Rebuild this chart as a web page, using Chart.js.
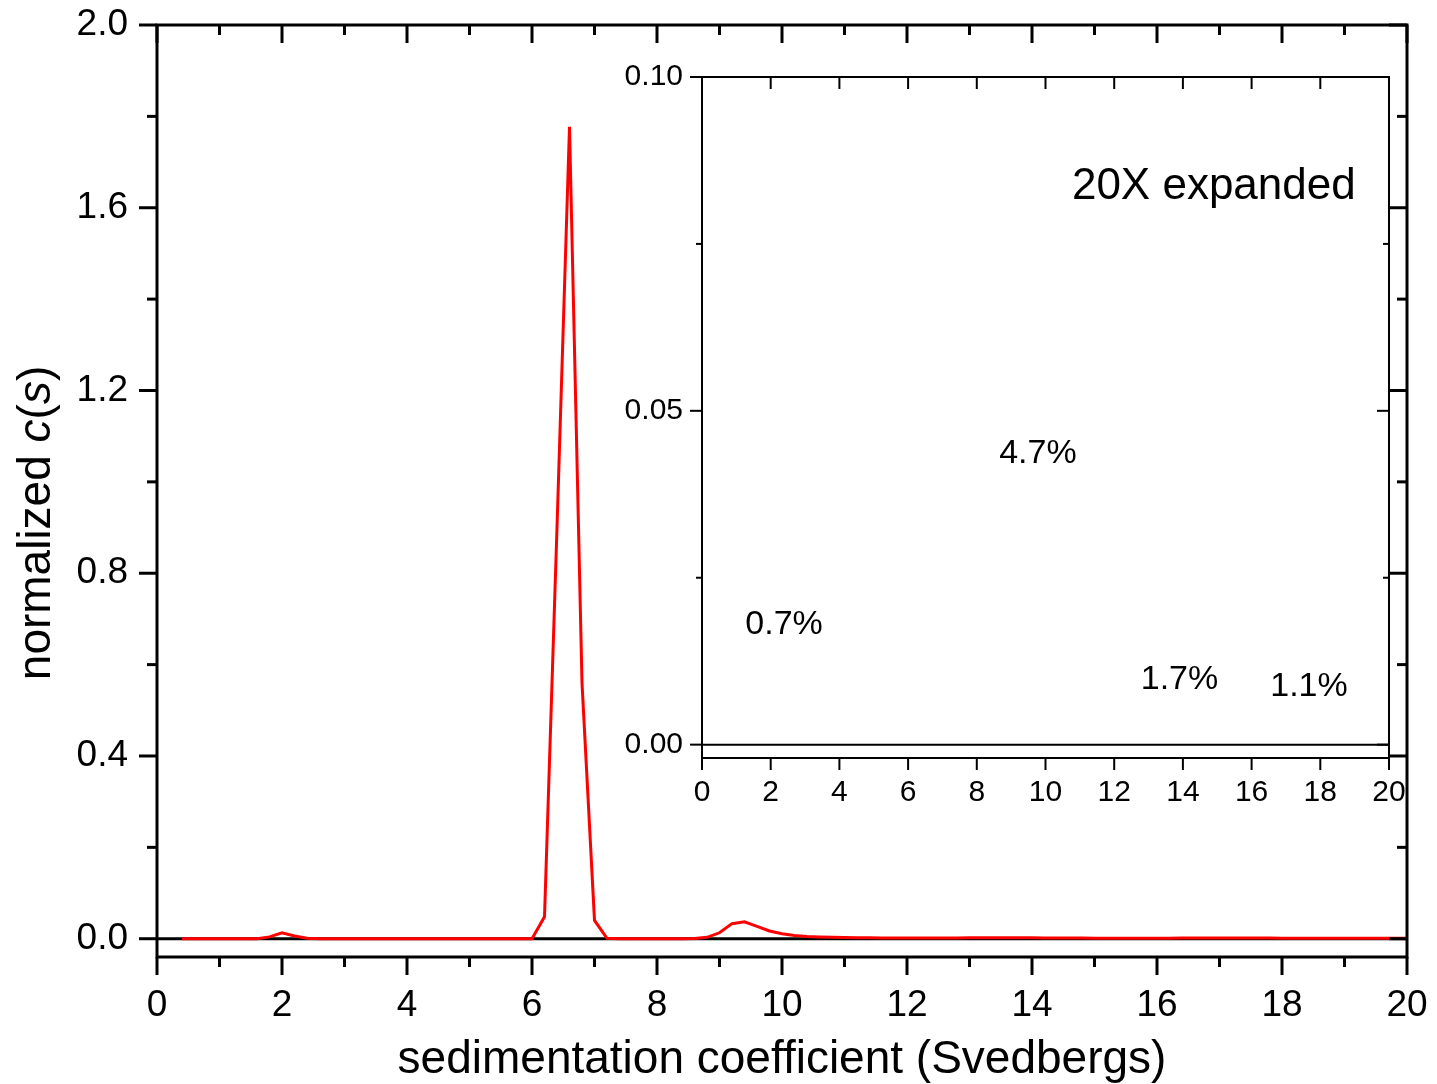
<!DOCTYPE html>
<html>
<head>
<meta charset="utf-8">
<title>normalized c(s)</title>
<script src="https://cdn.jsdelivr.net/npm/chart.js@4.4.1/dist/chart.umd.min.js"></script>
<style>
  html, body { margin: 0; padding: 0; background: #fff; }
  #wrap { position: relative; width: 1437px; height: 1084px; }
  #mainChart { position: absolute; left: 0; top: 0; }
  #insetChart { position: absolute; left: 560px; top: 40px; }
</style>
</head>
<body>
<div id="wrap">
  <canvas id="mainChart" width="1437" height="1084"></canvas>
  <canvas id="insetChart" width="870" height="780"></canvas>
</div>
<script>
const fontFamily = "'Liberation Sans', Arial, Helvetica, sans-serif";

// sedimentation coefficient grid (Svedbergs)
const sValues = [
  0.4, 0.6, 0.8, 1.0, 1.2, 1.4, 1.6, 1.8, 2.0, 2.2,
  2.4, 2.6, 2.8, 3.0, 3.2, 3.4, 3.6, 3.8, 4.0, 4.2,
  4.4, 4.6, 4.8, 5.0, 5.2, 5.4, 5.6, 5.8, 6.0, 6.2,
  6.4, 6.6, 6.8, 7.0, 7.2, 7.4, 7.6, 7.8, 8.0, 8.2,
  8.4, 8.6, 8.8, 9.0, 9.2, 9.4, 9.6, 9.8, 10.0, 10.2,
  10.4, 10.6, 10.8, 11.0, 11.2, 11.4, 11.6, 11.8, 12.0, 12.2,
  12.4, 12.6, 12.8, 13.0, 13.2, 13.4, 13.6, 13.8, 14.0, 14.2,
  14.4, 14.6, 14.8, 15.0, 15.2, 15.4, 15.6, 15.8, 16.0, 16.2,
  16.4, 16.6, 16.8, 17.0, 17.2, 17.4, 17.6, 17.8, 18.0, 18.2,
  18.4, 18.6, 18.8, 19.0, 19.2, 19.4, 19.6, 19.8, 20.0
];

// normalized c(s)
const cValues = [
  0, 0, 0, 0, 0, 0, 0, 0.004, 0.013, 0.006,
  0.001, 0, 0, 0, 0, 0, 0, 0, 0, 0,
  0, 0, 0, 0, 0, 0, 0, 0, 0, 0.048,
  0.90, 1.777, 0.56, 0.040, 0.001, 0, 0, 0, 0, 0,
  0, 0.0005, 0.003, 0.013, 0.033, 0.037, 0.027, 0.017, 0.011, 0.007,
  0.005, 0.004, 0.003, 0.0025, 0.002, 0.002, 0.0018, 0.0017, 0.0016, 0.0016,
  0.0016, 0.0017, 0.0018, 0.002, 0.0022, 0.0023, 0.0023, 0.0022, 0.002, 0.0018,
  0.0016, 0.0015, 0.0014, 0.0013, 0.0012, 0.0012, 0.0012, 0.0012, 0.0012, 0.0013,
  0.0014, 0.0015, 0.0016, 0.0017, 0.0017, 0.0016, 0.0015, 0.0014, 0.0013, 0.0012,
  0.0012, 0.0011, 0.0011, 0.001, 0.001, 0.001, 0.001, 0.001, 0.001
];

// axis ticks
const mainXMajor = [0, 2, 4, 6, 8, 10, 12, 14, 16, 18, 20];
const mainXMinor = [1, 3, 5, 7, 9, 11, 13, 15, 17, 19];
const mainYMajor = [0, 0.4, 0.8, 1.2, 1.6, 2.0];
const mainYMinor = [0.2, 0.6, 1.0, 1.4, 1.8];
const insetXMajor = [0, 2, 4, 6, 8, 10, 12, 14, 16, 18, 20];
const insetYMajor = [0, 0.05, 0.10];
const insetYMinor = [0.025, 0.075];

// inset text
const insetNotes = ['20X expanded', '4.7%', '0.7%', '1.7%', '1.1%'];

const xAxisTitle = 'sedimentation coefficient (Svedbergs)';
const yTitleParts = [['normalized ', false], ['c', true], ['(', false], ['s', true], [')', false]];

// box + tick marks drawn from the chart's own scales
const framePlugin = {
  id: 'frame',
  afterDatasetsDraw(chart, args, opts) {
    const { ctx, chartArea: a, scales: { x, y } } = chart;
    ctx.save();
    ctx.strokeStyle = '#000';
    ctx.lineWidth = opts.lineWidth;
    ctx.strokeRect(a.left, a.top, a.right - a.left, a.bottom - a.top);
    const line = (x1, y1, x2, y2) => {
      ctx.beginPath(); ctx.moveTo(x1, y1); ctx.lineTo(x2, y2); ctx.stroke();
    };
    const sides = opts.sides;
    const xSets = [[opts.xMajor, opts.major], [opts.xMinor, opts.minor]];
    const ySets = [[opts.yMajor, opts.major], [opts.yMinor, opts.minor]];
    xSets.forEach(([vals, len]) => vals.forEach(v => {
      const px = x.getPixelForValue(v);
      line(px, a.top, px, a.top + (sides.top === 'in' ? len : -len));
      line(px, a.bottom, px, a.bottom + (sides.bottom === 'in' ? -len : len));
    }));
    ySets.forEach(([vals, len]) => vals.forEach(v => {
      const py = y.getPixelForValue(v);
      line(a.left, py, a.left + (sides.left === 'in' ? len : -len), py);
      line(a.right, py, a.right + (sides.right === 'in' ? -len : len), py);
    }));
    ctx.restore();
  }
};

// axis titles of the main chart (y title has italic c and s)
const titlesPlugin = {
  id: 'titles',
  afterDraw(chart) {
    const { ctx, chartArea: a } = chart;
    ctx.save();
    ctx.fillStyle = '#000';
    ctx.textBaseline = 'alphabetic';
    ctx.textAlign = 'center';
    ctx.font = '46px ' + fontFamily;
    ctx.fillText(xAxisTitle, (a.left + a.right) / 2, 1073);

    ctx.translate(50, 523);
    ctx.rotate(-Math.PI / 2);
    ctx.textAlign = 'left';
    const fontFor = it => (it ? 'italic ' : '') + '46px ' + fontFamily;
    let total = 0;
    yTitleParts.forEach(([t, it]) => { ctx.font = fontFor(it); total += ctx.measureText(t).width; });
    let cx = -total / 2;
    yTitleParts.forEach(([t, it]) => {
      ctx.font = fontFor(it);
      ctx.fillText(t, cx, 0);
      cx += ctx.measureText(t).width;
    });
    ctx.restore();
  }
};

// text notes inside the inset, anchored in data units
const notesPlugin = {
  id: 'notes',
  afterDraw(chart, args, opts) {
    const { ctx, scales: { x, y } } = chart;
    ctx.save();
    ctx.fillStyle = '#000';
    ctx.textAlign = 'center';
    ctx.textBaseline = 'middle';
    opts.items.forEach((it, i) => {
      ctx.font = it.size + 'px ' + fontFamily;
      ctx.fillText(insetNotes[i], x.getPixelForValue(it.s), y.getPixelForValue(it.c));
    });
    ctx.restore();
  }
};

const fixBox = (w, h) => s => {
  if (w !== null) s.width = w;
  if (h !== null) s.height = h;
  s.paddingLeft = s.paddingRight = s.paddingTop = s.paddingBottom = 0;
};

const curve = sValues.map((s, i) => ({ x: s, y: cValues[i] }));

new Chart(document.getElementById('mainChart'), {
  type: 'line',
  data: {
    datasets: [
      { data: curve, borderColor: '#ff0000', borderWidth: 3, pointRadius: 0, tension: 0, fill: false, order: 0 },
      { data: [{ x: 0, y: 0 }, { x: 20, y: 0 }], borderColor: '#000', borderWidth: 3, pointRadius: 0, fill: false, order: 1 }
    ]
  },
  options: {
    responsive: false,
    animation: false,
    devicePixelRatio: 1,
    layout: { padding: { left: 0, top: 25, right: 30, bottom: 0 } },
    plugins: {
      legend: { display: false },
      tooltip: { enabled: false },
      frame: {
        lineWidth: 3, major: 18, minor: 10,
        sides: { left: 'out', right: 'in', top: 'in', bottom: 'out' },
        xMajor: mainXMajor, xMinor: mainXMinor, yMajor: mainYMajor, yMinor: mainYMinor
      }
    },
    scales: {
      x: {
        type: 'linear', min: 0, max: 20,
        grid: { display: false }, border: { display: false },
        afterBuildTicks: s => { s.ticks = mainXMajor.map(v => ({ value: v })); },
        afterFit: fixBox(null, 127),
        ticks: { color: '#000', padding: 19, font: { size: 37, family: fontFamily }, maxRotation: 0, callback: v => String(v) }
      },
      y: {
        type: 'linear', min: -0.04, max: 2.0,
        grid: { display: false }, border: { display: false },
        afterBuildTicks: s => { s.ticks = mainYMajor.map(v => ({ value: v })); },
        afterFit: fixBox(157, null),
        ticks: { color: '#000', padding: 21, font: { size: 37, family: fontFamily }, callback: v => v.toFixed(1) }
      }
    }
  },
  plugins: [framePlugin, titlesPlugin]
});

new Chart(document.getElementById('insetChart'), {
  type: 'line',
  data: {
    datasets: [
      { data: [{ x: 0, y: 0 }, { x: 20, y: 0 }], borderColor: '#000', borderWidth: 2, pointRadius: 0, fill: false }
    ]
  },
  options: {
    responsive: false,
    animation: false,
    devicePixelRatio: 1,
    layout: { padding: { left: 0, top: 37, right: 41, bottom: 0 } },
    plugins: {
      legend: { display: false },
      tooltip: { enabled: false },
      frame: {
        lineWidth: 2, major: 12, minor: 6,
        sides: { left: 'out', right: 'in', top: 'in', bottom: 'out' },
        xMajor: insetXMajor, xMinor: [], yMajor: insetYMajor, yMinor: insetYMinor
      },
      notes: {
        items: [
          { s: 14.9, c: 0.0835, size: 44 },
          { s: 9.78, c: 0.0436, size: 34 },
          { s: 2.39, c: 0.0180, size: 34 },
          { s: 13.9, c: 0.0097, size: 34 },
          { s: 17.67, c: 0.0087, size: 34 }
        ]
      }
    },
    scales: {
      x: {
        type: 'linear', min: 0, max: 20,
        grid: { display: false }, border: { display: false },
        afterBuildTicks: s => { s.ticks = insetXMajor.map(v => ({ value: v })); },
        afterFit: fixBox(null, 62),
        ticks: { color: '#000', padding: 9, font: { size: 30, family: fontFamily }, maxRotation: 0, callback: v => String(v) }
      },
      y: {
        type: 'linear', min: -0.002, max: 0.10,
        grid: { display: false }, border: { display: false },
        afterBuildTicks: s => { s.ticks = insetYMajor.map(v => ({ value: v })); },
        afterFit: fixBox(142, null),
        ticks: { color: '#000', padding: 11, font: { size: 30, family: fontFamily }, callback: v => v.toFixed(2) }
      }
    }
  },
  plugins: [framePlugin, notesPlugin]
});
</script>
</body>
</html>
